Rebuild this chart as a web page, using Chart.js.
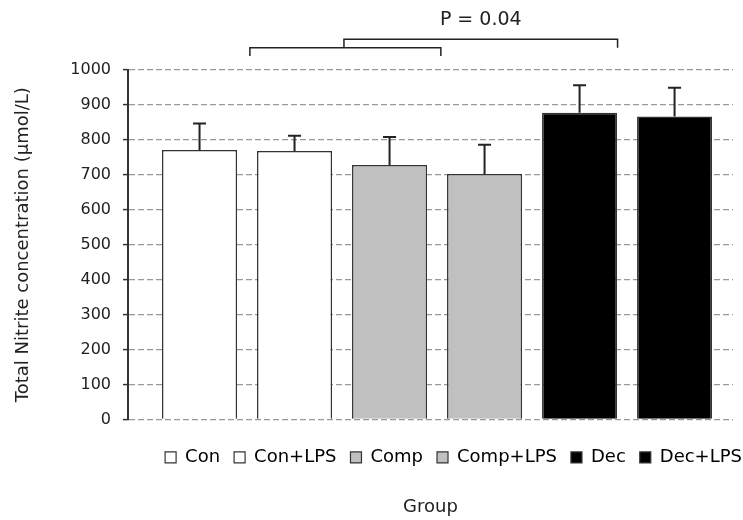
<!DOCTYPE html>
<html>
<head>
<meta charset="utf-8">
<script src="https://cdn.jsdelivr.net/npm/chart.js@4"></script>
<style>
  html, body { margin: 0; padding: 0; background: #fff; }
  #wrap { width: 743px; height: 520px; }
</style>
</head>
<body>
<div id="wrap"><canvas id="nitriteChart"></canvas></div>
<script>
// groups and values
var groups = ['Con', 'Con+LPS', 'Comp', 'Comp+LPS', 'Dec', 'Dec+LPS'];
var positions = [0, 1, 2, 3, 4, 5];
var means = [771, 768, 728, 702, 878, 867];
var errors = [76, 44, 80, 84, 78, 82];
var yTicks = [0, 100, 200, 300, 400, 500, 600, 700, 800, 900, 1000];

// significance bracket (x in group units, y in µmol/L)
var brackets = [
  { from: 0.53, to: 2.54, y: 1064, drop: 1040 },
  { from: 1.52, to: 4.40, y: 1088, drop: 1064 }
];
var pLabel = 'P = 0.04';
var pLabelY = 1143;

var fills = ['#ffffff', '#ffffff', '#c0c0c0', '#c0c0c0', '#000000', '#000000'];

var FONT = 'DejaVu Sans, Verdana, sans-serif';

var errorBars = {
  id: 'errorBars',
  afterLayout: function (chart) {
    // legend in the original runs right up to the edge
    chart.legend.left += 23;
    chart.legend.right += 23;
  },
  afterDatasetsDraw: function (chart) {
    var x = chart.scales.x, y = chart.scales.y, ctx = chart.ctx;
    ctx.save();
    ctx.strokeStyle = '#222';
    ctx.lineWidth = 2;
    for (var i = 0; i < means.length; i++) {
      var px = x.getPixelForValue(positions[i]);
      var y0 = y.getPixelForValue(means[i]);
      var y1 = y.getPixelForValue(means[i] + errors[i]);
      ctx.beginPath();
      ctx.moveTo(px, y0);
      ctx.lineTo(px, y1);
      ctx.moveTo(px - 6.5, y1);
      ctx.lineTo(px + 6.5, y1);
      ctx.stroke();
    }
    // brackets
    ctx.lineWidth = 1.5;
    brackets.forEach(function (b) {
      var xl = x.getPixelForValue(b.from), xr = x.getPixelForValue(b.to);
      var yb = y.getPixelForValue(b.y), yd = y.getPixelForValue(b.drop);
      ctx.beginPath();
      ctx.moveTo(xl, yd);
      ctx.lineTo(xl, yb);
      ctx.lineTo(xr, yb);
      ctx.lineTo(xr, yd);
      ctx.stroke();
    });
    var last = brackets[brackets.length - 1];
    ctx.fillStyle = '#222';
    ctx.font = '19px ' + FONT;
    ctx.textAlign = 'center';
    ctx.textBaseline = 'middle';
    ctx.fillText(pLabel, x.getPixelForValue((last.from + last.to) / 2), y.getPixelForValue(pLabelY));
    ctx.restore();
  }
};

new Chart(document.getElementById('nitriteChart'), {
  type: 'bar',
  data: {
    datasets: [{
      data: positions.map(function (p, i) { return { x: p, y: means[i] }; }),
      backgroundColor: fills,
      borderColor: '#333',
      borderWidth: 1.5,
      barPercentage: 0.79,
      categoryPercentage: 1
    }]
  },
  options: {
    responsive: true,
    maintainAspectRatio: false,
    animation: false,
    layout: { padding: { top: 70, right: 10, left: 0, bottom: 0 } },
    scales: {
      x: {
        type: 'linear',
        min: -0.753,
        max: 5.615,
        offset: false,
        afterBuildTicks: function (scale) {
          scale.ticks = positions.map(function (v) { return { value: v }; });
        },
        afterFit: function (scale) { scale.height = 15; },
        ticks: { display: false },
        grid: { display: false },
        border: { display: false }
      },
      y: {
        min: 0,
        max: 1000,
        afterBuildTicks: function (scale) {
          scale.ticks = yTicks.map(function (v) { return { value: v }; });
        },
        afterFit: function (scale) { scale.width = 128; },
        ticks: {
          color: '#222',
          padding: 12,
          font: { family: FONT, size: 16 },
          callback: function (v) { return String(v); }
        },
        grid: {
          color: '#999',
          lineWidth: 1.2,
          tickLength: 5,
          tickColor: '#333',
          tickWidth: 1.5
        },
        border: { display: true, color: '#333', width: 2, dash: [6, 3] },
        title: {
          display: true,
          text: 'Total Nitrite concentration (µmol/L)',
          color: '#222',
          font: { family: FONT, size: 18 },
          padding: { top: 13, bottom: 0 }
        }
      }
    },
    plugins: {
      legend: {
        position: 'bottom',
        align: 'end',
        labels: {
          color: '#222',
          font: { family: FONT, size: 18 },
          boxWidth: 11,
          boxHeight: 11,
          padding: 14,
          generateLabels: function () {
            return groups.map(function (g, i) {
              return {
                text: g,
                fillStyle: fills[i],
                strokeStyle: '#333',
                lineWidth: 1.2,
                hidden: false,
                index: i
              };
            });
          }
        }
      },
      title: {
        display: true,
        position: 'bottom',
        fullSize: false,
        text: 'Group',
        color: '#222',
        font: { family: FONT, size: 18, weight: 'normal' },
        padding: { top: 20, bottom: 2 }
      },
      tooltip: { enabled: false }
    }
  },
  plugins: [errorBars]
});
</script>
</body>
</html>
